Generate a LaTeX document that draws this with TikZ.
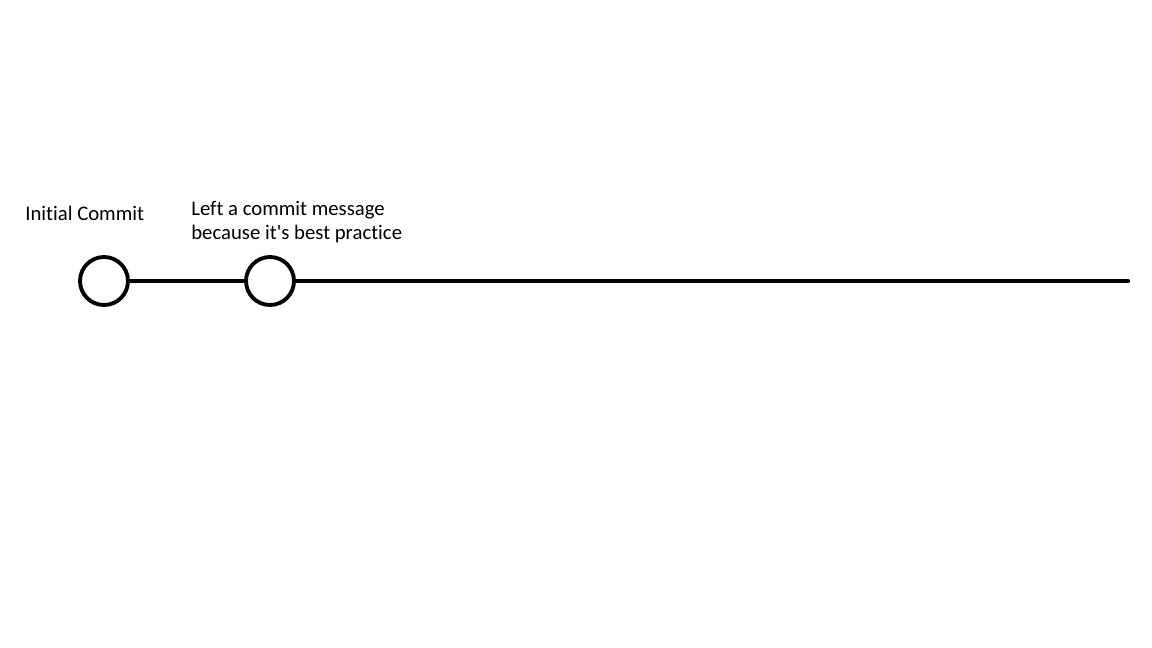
\documentclass[tikz,border=0pt]{standalone}
\usepackage{fontspec}
\newfontfamily\paintfont{Carlito}[Ligatures=NoCommon]
\begin{document}
\begin{tikzpicture}
			\begin{scope}[x={0.02cm},y={-0.02cm}]
				\useasboundingbox (0,0) rectangle (1152,648); % canvas

				\tikzset{commit/.style={circle,draw,line width=2.2pt,minimum size=48*0.02cm,inner sep=0},
					label/.style={anchor=base west,inner sep=0,font=\paintfont\fontsize{11.8}{13.6}\selectfont,align=left}}

				\node[commit] (c1) at (104,281) {}; % first commit
				\node[commit] (c2) at (270,281) {}; % second commit
				\coordinate (tip) at (1128,281); % end of branch

				\draw[line width=2.4pt] (c1)--(c2); % link 1
				\draw[line width=2.4pt,line cap=round] (c2)--(tip); % branch

				\node[label] (t1) at (25,221) {Initial Commit};
				\node[label,anchor=north west] (t2) at (191,201) {Left a commit message\\because it's best practice};
			\end{scope}
		\end{tikzpicture}
\end{document}
